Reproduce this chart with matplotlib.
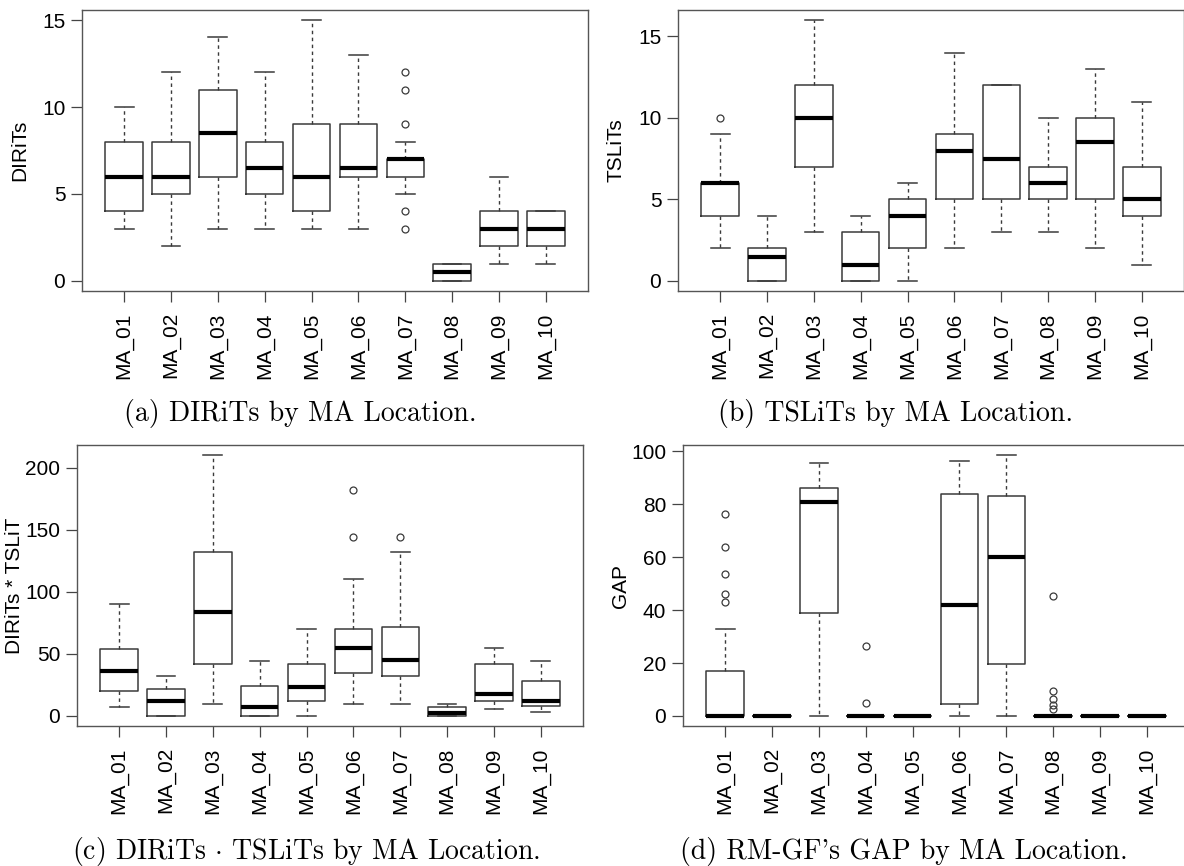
import matplotlib
matplotlib.use("Agg")
import matplotlib.pyplot as plt

plt.rcParams['font.family'] = ['Liberation Sans', 'DejaVu Sans']
plt.rcParams['mathtext.fontset'] = 'cm'

locations = ['MA_01', 'MA_02', 'MA_03', 'MA_04', 'MA_05',
             'MA_06', 'MA_07', 'MA_08', 'MA_09', 'MA_10']

# five-number summaries: (whisker low, q1, median, q3, whisker high)
dirits_stats = [(3, 4, 6, 8, 10), (2, 5, 6, 8, 12), (3, 6, 8.5, 11, 14), (3, 5, 6.5, 8, 12),
                (3, 4, 6, 9, 15), (3, 6, 6.5, 9, 13), (5, 6, 7, 7, 8), (0, 0, 0.5, 1, 1),
                (1, 2, 3, 4, 6), (1, 2, 3, 4, 4)]
dirits_out = [[], [], [], [], [], [], [3, 4, 9, 11, 12], [], [], []]

tslits_stats = [(2, 4, 6, 6, 9), (0, 0, 1.5, 2, 4), (3, 7, 10, 12, 16), (0, 0, 1, 3, 4),
                (0, 2, 4, 5, 6), (2, 5, 8, 9, 14), (3, 5, 7.5, 12, 12), (3, 5, 6, 7, 10),
                (2, 5, 8.5, 10, 13), (1, 4, 5, 7, 11)]
tslits_out = [[10], [], [], [], [], [], [], [], [], []]

prod_stats = [(7, 20, 36, 54, 90), (0, 0, 12, 22, 32), (10, 42, 84, 132, 210), (0, 0, 7, 24, 44),
              (0, 12, 23, 42, 70), (10, 35, 55, 70, 110), (10, 32, 45, 72, 132), (0, 0, 2, 7, 10),
              (6, 12, 18, 42, 55), (3, 8, 12, 28, 44)]
prod_out = [[], [], [], [], [], [144, 182], [144], [], [], []]

gap_stats = [(0, 0, 0, 17, 33), (0, 0, 0, 0, 0), (0, 39, 81, 86, 95.5), (0, 0, 0, 0, 0),
             (0, 0, 0, 0, 0), (0, 4.5, 42, 84, 96.5), (0, 19.5, 60, 83, 98.5), (0, 0, 0, 0, 0),
             (0, 0, 0, 0, 0), (0, 0, 0, 0, 0)]
gap_out = [[43, 46, 53.5, 64, 76.5], [], [], [5, 26.5], [], [], [], [2.5, 4, 6.5, 9.5, 45.5], [], []]

panels = [
    # stats, outliers, ylabel, yticks, ylim, caption, axes rect (px: left, top, right, bottom), caption centre
    (dirits_stats, dirits_out, 'DIRiTs', [0, 5, 10, 15], (-0.6, 15.6),
     '(a) DIRiTs by MA Location.', (82, 9.6, 588, 291.4), (300, 413)),
    (tslits_stats, tslits_out, 'TSLiTs', [0, 5, 10, 15], (-0.64, 16.64),
     '(b) TSLiTs by MA Location.', (678, 9.6, 1184, 291.4), (895, 413)),
    (prod_stats, prod_out, 'DIRiTs * TSLiT', [0, 50, 100, 150, 200], (-8.4, 218.4),
     r'(c) DIRiTs $\cdot$ TSLiTs by MA Location.', (77, 445, 583, 726.4), (306, 851)),
    (gap_stats, gap_out, 'GAP', [0, 20, 40, 60, 80, 100], (-3.94, 102.44),
     "(d) RM-GF's GAP by MA Location.", (683, 445, 1189, 726.4), (904, 851)),
]

W, H = 1184, 866
fig = plt.figure(figsize=(W / 100, H / 100), dpi=100)

edge = '#3a3a3a'
for stats, outs, ylab, yt, ylim, cap, rect, cpos in panels:
    l, t, r, b = rect
    ax = fig.add_axes([l / W, 1 - b / H, (r - l) / W, (b - t) / H])
    bxp_stats = []
    for (lo, q1, med, q3, hi), fl in zip(stats, outs):
        bxp_stats.append(dict(whislo=lo, q1=q1, med=med, q3=q3, whishi=hi, fliers=fl))
    ax.bxp(bxp_stats, positions=range(1, 11), widths=0.8,
           boxprops=dict(color=edge, linewidth=1.1),
           medianprops=dict(color='black', linewidth=3),
           whiskerprops=dict(color=edge, linewidth=1.0, linestyle=(0, (2.5, 2.5))),
           capprops=dict(color=edge, linewidth=1.1),
           flierprops=dict(marker='o', markersize=5, markerfacecolor='none',
                           markeredgecolor=edge, markeredgewidth=0.9),
           capwidths=0.4)
    ax.set_xlim(0.1, 10.9)
    ax.set_ylim(*ylim)
    ax.set_yticks(yt)
    ax.set_xticks(range(1, 11))
    ax.set_xticklabels(locations, rotation=90)
    ax.tick_params(direction='out', length=8, width=0.9, color='#444444',
                   labelsize=15, pad=4)
    ax.tick_params(axis='x', pad=7)
    for s in ax.spines.values():
        s.set_color('#555555')
        s.set_linewidth(1.0)
    ax.set_ylabel(ylab, fontsize=15)
    # fixed distance from the plot edge, like R's ylab line
    ax.yaxis.set_label_coords(-53 / (r - l), 0.5)
    fig.text(cpos[0] / W, 1 - cpos[1] / H, cap, family=['cmr10', 'DejaVu Serif'],
             fontsize=20, ha='center', va='center')

fig.savefig('out.png', dpi=100)
